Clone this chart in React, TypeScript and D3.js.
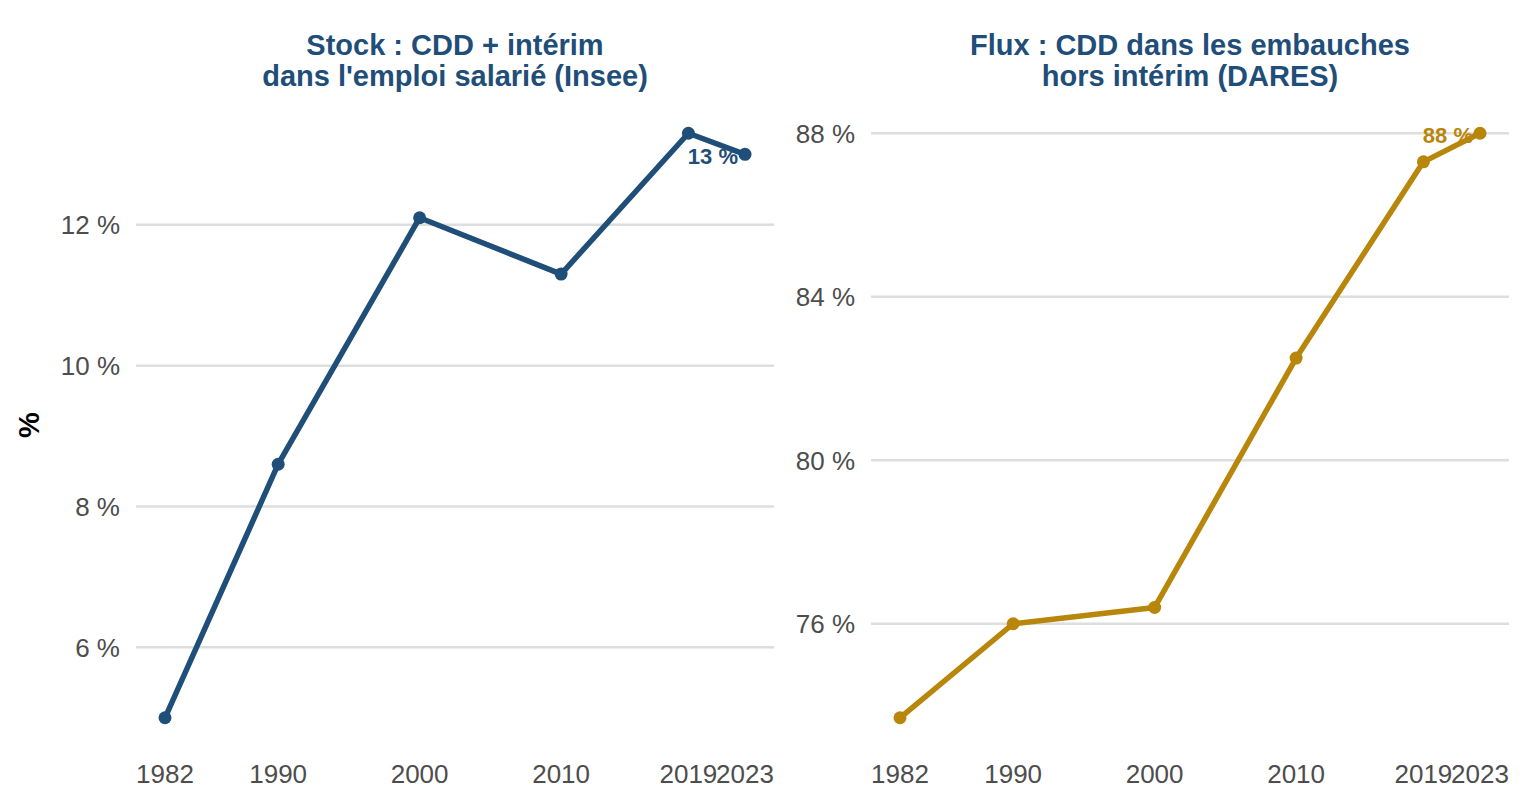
import * as d3 from 'd3';

const years = [1982, 1990, 2000, 2010, 2019, 2023];
const stockValues = [5.0, 8.6, 12.1, 11.3, 13.3, 13.0];
const fluxValues = [73.7, 76.0, 76.4, 82.5, 87.3, 88.0];
const stockTicks = [6, 8, 10, 12];
const fluxTicks = [76, 80, 84, 88];
const stockTitle = ['Stock : CDD + intérim', "dans l'emploi salarié (Insee)"];
const fluxTitle = ['Flux : CDD dans les embauches', 'hors intérim (DARES)'];

const WIDTH = 1536;
const HEIGHT = 806;
const FONT = '"Liberation Sans", Arial, Helvetica, sans-serif';
const BLUE = '#1f4e79';
const GOLD = '#b8860b';

// ggplot-like 5% expansion of a numeric extent
function expand(values: number[]): [number, number] {
  const [lo, hi] = d3.extent(values) as [number, number];
  const pad = (hi - lo) * 0.05;
  return [lo - pad, hi + pad];
}

interface PanelProps {
  left: number;
  right: number;
  values: number[];
  ticks: number[];
  title: string[];
  color: string;
}

function Panel({ left, right, values, ticks, title, color }: PanelProps) {
  const top = 104;
  const bottom = 747;

  const x = d3.scaleLinear().domain(expand(years)).range([left, right]);
  const y = d3.scaleLinear().domain(expand(values)).range([bottom, top]);

  const pts = years.map((yr, i) => ({ yr, v: values[i] }));
  const line = d3.line<{ yr: number; v: number }>()
    .x(d => x(d.yr))
    .y(d => y(d.v));

  const last = pts[pts.length - 1];
  const cx = (left + right) / 2;

  return (
    <g>
      {title.map((t, i) => (
        <text key={t} x={cx} y={55 + i * 31} textAnchor="middle"
          fontFamily={FONT} fontWeight="bold" fontSize={29} fill={BLUE}>{t}</text>
      ))}

      {ticks.map(t => (
        <g key={t}>
          <line x1={left} x2={right} y1={y(t)} y2={y(t)} stroke="#dedede" strokeWidth={2.5} />
          <text x={left - 16} y={y(t)} dy="0.36em" textAnchor="end"
            fontFamily={FONT} fontSize={26} fill="#4d4d4d">{`${t} %`}</text>
        </g>
      ))}

      {years.map(yr => (
        <text key={yr} x={x(yr)} y={783} textAnchor="middle"
          fontFamily={FONT} fontSize={26} fill="#4d4d4d">{yr}</text>
      ))}

      <path d={line(pts) ?? ''} fill="none" stroke={color} strokeWidth={5.5}
        strokeLinejoin="round" strokeLinecap="round" />
      {pts.map(p => (
        <circle key={p.yr} cx={x(p.yr)} cy={y(p.v)} r={6.5} fill={color} />
      ))}

      <text x={x(last.yr) - 7} y={y(last.v) + 2} dy="0.36em" textAnchor="end"
        fontFamily={FONT} fontWeight="bold" fontSize={22} fill={color}>
        {`${d3.format('.0f')(last.v)} %`}
      </text>
    </g>
  );
}

export default function App() {
  return (
    <div style={{ position: 'absolute', left: 0, top: 0 }}>
      <svg width={WIDTH} height={HEIGHT} style={{ display: 'block', background: '#fff' }}>
        <text transform="translate(39,425) rotate(-90)" textAnchor="middle"
          fontFamily={FONT} fontWeight="bold" fontSize={29} fill="#000">%</text>
        <Panel left={136} right={774} values={stockValues} ticks={stockTicks}
          title={stockTitle} color={BLUE} />
        <Panel left={871} right={1509} values={fluxValues} ticks={fluxTicks}
          title={fluxTitle} color={GOLD} />
      </svg>
    </div>
  );
}
